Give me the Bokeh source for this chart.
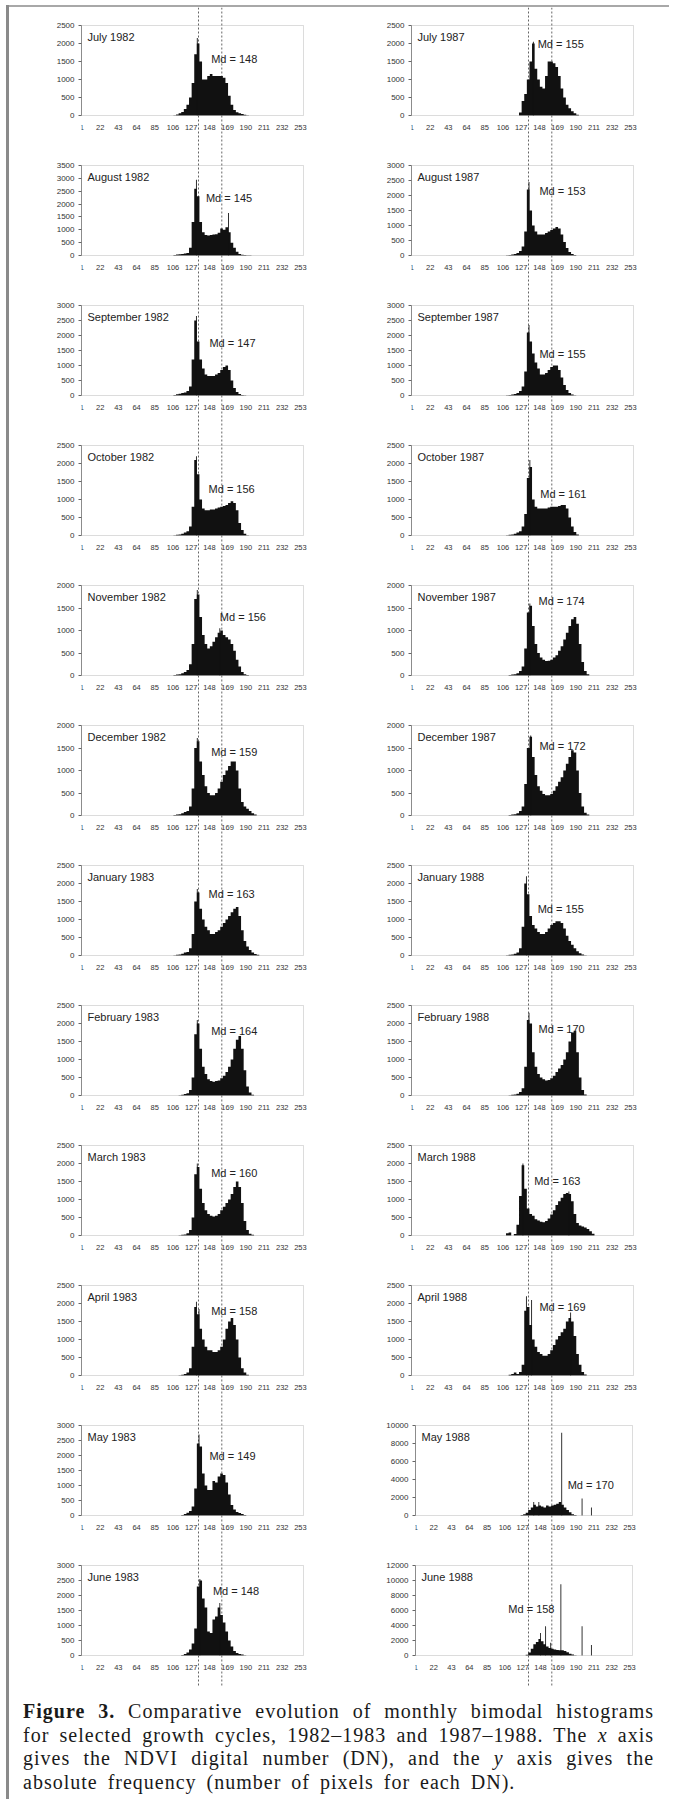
from bokeh.plotting import figure
from bokeh.models import Label, Span, Div, FixedTicker, Range1d, LinearAxis, BoxAnnotation
from bokeh.layouts import column, row
from bokeh.embed import file_html
from bokeh.resources import INLINE

# ---------------- data ----------------
DN = [102, 105, 108, 111, 114, 117, 120, 123, 126, 129, 132, 135, 138, 141, 144,
      147, 150, 153, 156, 159, 162, 165, 168, 171, 174, 177, 180, 183, 186, 189,
      192, 195, 198, 201, 204, 207, 210, 213, 216]
X_TICKS = [1, 22, 43, 64, 85, 106, 127, 148, 169, 190, 211, 232, 253]

TITLES_L = ["July 1982", "August 1982", "September 1982", "October 1982",
            "November 1982", "December 1982", "January 1983", "February 1983",
            "March 1983", "April 1983", "May 1983", "June 1983"]
TITLES_R = ["July 1987", "August 1987", "September 1987", "October 1987",
            "November 1987", "December 1987", "January 1988", "February 1988",
            "March 1988", "April 1988", "May 1988", "June 1988"]
MD_L = [148, 145, 147, 156, 156, 159, 163, 164, 160, 158, 149, 148]
MD_R = [155, 153, 155, 161, 174, 172, 155, 170, 163, 169, 170, 158]
YMAX_L = [2500, 3500, 3000, 2500, 2000, 2000, 2500, 2500, 2500, 2500, 3000, 3000]
YSTEP_L = [500] * 12
YMAX_R = [2500, 3000, 3000, 2500, 2000, 2000, 2500, 2500, 2500, 2500, 10000, 12000]
YSTEP_R = [500] * 10 + [2000, 2000]

jul82 = [0, 0, 10, 30, 60, 100, 180, 300, 500, 900, 1700, 2000, 1500, 1000, 1000, 1100, 1150, 1100, 1100, 1100,
         1100, 1050, 900, 550, 300, 150, 90, 60, 40, 20, 10, 0, 0, 0, 0, 0, 0, 0, 0]
aug82 = [0, 0, 20, 40, 50, 60, 80, 100, 300, 1300, 2600, 2300, 1300, 900, 800, 780, 800, 820, 830, 880,
         1050, 1000, 1100, 900, 500, 300, 150, 60, 30, 20, 10, 5, 0, 0, 0, 0, 0, 0, 0]
sep82 = [0, 0, 20, 40, 60, 80, 100, 150, 300, 1200, 2500, 1800, 1200, 900, 700, 650, 650, 650, 700, 750,
         850, 950, 1000, 850, 500, 250, 120, 50, 20, 10, 0, 0, 0, 0, 0, 0, 0, 0, 0]
oct82 = [0, 0, 10, 20, 30, 50, 80, 120, 250, 800, 2100, 1700, 1000, 750, 700, 700, 720, 720, 750, 780,
         800, 820, 850, 900, 950, 900, 700, 350, 150, 50, 10, 0, 0, 0, 0, 0, 0, 0, 0]
nov82 = [0, 0, 10, 20, 30, 50, 80, 120, 250, 700, 1700, 1800, 1300, 900, 700, 600, 650, 750, 850, 950,
         1000, 900, 850, 800, 700, 550, 350, 200, 80, 30, 10, 0, 0, 0, 0, 0, 0, 0, 0]
dec82 = [0, 0, 10, 20, 30, 50, 80, 100, 200, 600, 1500, 1650, 1200, 900, 650, 500, 450, 450, 500, 600,
         750, 900, 1000, 1100, 1200, 1200, 1000, 600, 300, 200, 150, 100, 50, 20, 0, 0, 0, 0, 0]
jan83 = [0, 0, 10, 20, 30, 50, 80, 100, 200, 600, 1500, 1750, 1300, 1000, 800, 700, 600, 600, 650, 700,
         800, 900, 1000, 1100, 1200, 1300, 1350, 1100, 700, 400, 250, 150, 80, 40, 20, 0, 0, 0, 0]
feb83 = [0, 0, 0, 0, 10, 20, 40, 60, 150, 500, 1700, 2000, 1300, 800, 600, 450, 400, 380, 400, 420,
         480, 550, 650, 800, 1000, 1300, 1550, 1650, 1300, 700, 250, 80, 20, 0, 0, 0, 0, 0, 0]
mar83 = [0, 0, 0, 0, 10, 20, 30, 60, 150, 500, 1700, 1900, 1300, 900, 700, 600, 550, 530, 550, 600,
         700, 800, 900, 1000, 1150, 1350, 1500, 1350, 900, 400, 150, 50, 20, 0, 0, 0, 0, 0, 0]
apr83 = [0, 0, 0, 0, 10, 20, 40, 80, 200, 800, 1900, 1700, 1300, 1000, 800, 700, 700, 650, 650, 700,
         800, 1000, 1300, 1500, 1600, 1400, 1000, 500, 200, 80, 20, 0, 0, 0, 0, 0, 0, 0, 0]
may83 = [0, 0, 0, 0, 0, 20, 50, 90, 150, 300, 900, 2400, 2300, 1400, 1000, 850, 850, 1150, 1100, 1300,
         1400, 1350, 1100, 700, 350, 200, 120, 80, 50, 20, 0, 0, 0, 0, 0, 0, 0, 0, 0]
jun83 = [0, 0, 0, 0, 0, 20, 50, 100, 200, 400, 900, 2300, 2500, 1900, 1600, 800, 750, 1200, 1300, 1600,
         1350, 1100, 800, 500, 300, 150, 80, 50, 30, 10, 0, 0, 0, 0, 0, 0, 0, 0, 0]

jul87 = [0, 0, 0, 0, 0, 0, 0, 0, 80, 400, 600, 1000, 1500, 2000, 1300, 1000, 800, 750, 1100, 1500,
         1500, 1450, 1350, 1100, 750, 500, 300, 200, 120, 60, 20, 0, 0, 0, 0, 0, 0, 0, 0]
aug87 = [0, 0, 0, 10, 20, 30, 50, 80, 150, 300, 800, 2200, 1500, 1000, 800, 700, 700, 700, 750, 800,
         850, 900, 950, 900, 700, 450, 250, 120, 50, 20, 0, 0, 0, 0, 0, 0, 0, 0, 0]
sep87 = [0, 0, 0, 10, 20, 30, 50, 80, 150, 300, 800, 2100, 1800, 1400, 1100, 900, 700, 700, 750, 850,
         950, 1000, 1000, 850, 600, 350, 180, 80, 30, 10, 0, 0, 0, 0, 0, 0, 0, 0, 0]
oct87 = [0, 0, 0, 10, 20, 30, 50, 80, 120, 250, 600, 1600, 1900, 1000, 800, 750, 750, 750, 750, 780,
         800, 800, 800, 820, 850, 850, 750, 500, 250, 100, 30, 0, 0, 0, 0, 0, 0, 0, 0]
nov87 = [0, 0, 0, 0, 10, 20, 30, 50, 100, 200, 600, 1400, 1550, 1100, 700, 500, 400, 350, 320, 330,
         350, 400, 450, 550, 650, 800, 950, 1100, 1250, 1300, 1150, 700, 300, 100, 30, 0, 0, 0, 0]
dec87 = [0, 0, 0, 0, 10, 20, 30, 50, 100, 200, 700, 1500, 1750, 1300, 900, 650, 550, 480, 450, 450,
         480, 550, 650, 750, 850, 1000, 1150, 1300, 1450, 1400, 1000, 500, 200, 60, 20, 0, 0, 0, 0]
jan88 = [0, 0, 0, 10, 20, 30, 50, 80, 200, 800, 2000, 1700, 1100, 850, 750, 650, 600, 600, 650, 750,
         850, 900, 950, 950, 900, 750, 550, 400, 300, 200, 120, 60, 30, 10, 0, 0, 0, 0, 0]
feb88 = [0, 0, 0, 0, 10, 20, 30, 50, 100, 200, 800, 2100, 2000, 1200, 800, 600, 500, 450, 420, 430,
         480, 550, 650, 750, 850, 1000, 1200, 1500, 1750, 1800, 1200, 500, 150, 30, 0, 0, 0, 0, 0]
mar88 = [0, 0, 0, 60, 80, 0, 40, 300, 1100, 1950, 1300, 750, 600, 550, 450, 420, 380, 370, 400, 470,
         580, 700, 850, 950, 1050, 1150, 1180, 1150, 950, 600, 350, 280, 250, 220, 180, 120, 50, 0, 0]
apr88 = [0, 0, 0, 0, 20, 40, 80, 40, 100, 300, 1800, 1900, 1400, 1000, 800, 650, 600, 550, 550, 600,
         700, 850, 1000, 1100, 1200, 1300, 1500, 1600, 1500, 1100, 600, 300, 100, 30, 0, 0, 0, 0, 0]
may88 = [0, 0, 0, 0, 0, 0, 0, 0, 50, 150, 300, 600, 900, 1200, 1000, 1100, 1000, 900, 1100, 1000,
         1100, 1200, 1300, 1500, 1200, 900, 600, 350, 150, 50, 0, 0, 0, 0, 0, 0, 0, 0, 0]
jun88 = [0, 0, 0, 0, 0, 0, 0, 0, 0, 0, 100, 400, 900, 1500, 1800, 2200, 1900, 1500, 1200, 1000,
         900, 800, 750, 700, 700, 600, 450, 250, 120, 40, 0, 0, 0, 0, 0, 0, 0, 0, 0]

# single-DN spikes (DN, count)
SPK_X_L = [[134], [133, 170], [133], [133], [134, 160], [134], [134], [134], [134], [133, 136], [136], [137, 160]]
SPK_Y_L = [[2150], [2950, 1650], [2650], [2200], [1900, 1050], [1720], [1850], [2100], [2000], [2050, 1850], [2700], [2550, 1750]]
SPK_X_R = [[141], [136], [136], [137], [137], [138], [133], [136], [129, 182], [133, 139, 184],
           [140, 146, 173, 197, 208], [148, 154, 160, 172, 197, 208]]
SPK_Y_R = [[2050], [2450], [2350], [2100], [1600], [1780], [2200], [2300], [2000, 1220], [2200, 2100, 1750],
           [1500, 1500, 9200, 1900, 900], [3000, 3900, 1700, 9500, 3900, 1400]]

VALS_L = [jul82, aug82, sep82, oct82, nov82, dec82, jan83, feb83, mar83, apr83, may83, jun83]
VALS_R = [jul87, aug87, sep87, oct87, nov87, dec87, jan88, feb88, mar88, apr88, may88, jun88]

# label placement (DN of text start, count at text middle)
MDPOS_X_L = [150, 144, 148, 147, 160, 150, 147, 150, 150, 150, 148, 152]
MDPOS_Y_L = [1580, 2230, 1760, 1300, 1300, 1420, 1700, 1800, 1750, 1800, 1990, 2160]
MDPOS_X_R = [146, 148, 148, 149, 147, 148, 146, 147, 142, 148, 180, 110]
MDPOS_Y_R = [1990, 2150, 1400, 1150, 1650, 1550, 1300, 1850, 1520, 1900, 3390, 6150]

# page x positions of the two dashed guide lines in each column
GUIDE_PX_L = [198, 221.3]
GUIDE_PX_R = [528, 551.3]

FONT = "Liberation Sans"
INK = "#111111"
FRAME = "#8c8c8c"
ORIGIN_X, ORIGIN_Y = 6, 5   # where the page frame starts
RULE_W, RULE_H = 3, 2       # widths of the left and top frame rules
CELL_H = 140
BOX_TOP = 18
BOX_H = 90                  # pixel height of each histogram box
PAD_R = 10                  # spare frame width right of the box, so the last tick label is not cut
LEFT_W, RIGHT_W = 328, 332
CAPTION_H = 112


def make_panel(col, r, title, vals, spx, spy, ymax, ystep, md, mdx, mdy):
    h = CELL_H
    top = BOX_TOP
    bottom = h - top - BOX_H
    wide = ymax >= 10000
    if col == 0:
        W, bl, bw = LEFT_W, 72, 222
        page_left = ORIGIN_X + RULE_W
        guides = GUIDE_PX_L
    else:
        W = RIGHT_W
        bl, bw = (78, 217) if wide else (74, 222)
        page_left = ORIGIN_X + RULE_W + LEFT_W
        guides = GUIDE_PX_R
    fw = bw + PAD_R
    br = W - bl - fw
    scale = bw / 256.0
    per_px = ymax / float(BOX_H)
    p = figure(width=W, height=h, title=None, output_backend="svg", toolbar_location=None,
               x_range=Range1d(0.5, 256.5 + PAD_R / scale),
               y_range=Range1d(-bottom * per_px, ymax + top * per_px),
               x_axis_location=None,
               min_border_left=bl, min_border_right=br, min_border_top=0, min_border_bottom=0)
    p.background_fill_color = "white"
    p.border_fill_color = "white"
    p.outline_line_color = None
    p.grid.visible = False

    # dashed guide lines, running through the whole cell (behind the bars)
    frame_left = page_left + bl
    for gx in guides:
        dn = 0.5 + (gx - frame_left) / scale
        p.add_layout(Span(location=dn, dimension="height", line_color="#666666",
                          line_width=1, line_dash="2 2", level="underlay"))

    p.varea_step(x=DN, y1=[0] * len(DN), y2=vals, step_mode="center", fill_color=INK)
    p.vbar(x=spx, top=spy, width=1.0, fill_color=INK, line_color=None)

    p.add_layout(BoxAnnotation(left=0.5, right=256.5, bottom=0, top=ymax, fill_alpha=0,
                               line_color=FRAME, line_width=1, level="overlay"))

    xa = LinearAxis(fixed_location=0, ticker=FixedTicker(ticks=X_TICKS), bounds=(0.5, 256.5))
    xa.axis_line_color = None
    xa.major_tick_line_color = None
    xa.minor_tick_line_color = None
    xa.major_tick_out = 0
    xa.major_tick_in = 0
    xa.major_label_standoff = 9
    xa.major_label_text_font = FONT
    xa.major_label_text_font_size = "7.5px"
    xa.major_label_text_color = "#333333"
    p.add_layout(xa, "below")

    ya = p.yaxis[0]
    ya.ticker = FixedTicker(ticks=list(range(0, ymax + 1, ystep)))
    ya.bounds = (0, ymax)
    ya.axis_line_color = FRAME
    ya.major_tick_line_color = "#666666"
    ya.minor_tick_line_color = None
    ya.major_tick_out = 3
    ya.major_tick_in = 0
    ya.major_label_standoff = 4
    ya.major_label_text_font = FONT
    ya.major_label_text_font_size = "8px"
    ya.major_label_text_color = "#333333"

    p.add_layout(Label(x=0.5, y=ymax, x_offset=6, y_offset=-5, text=title,
                       text_font=FONT, text_font_size="11px", text_color="#222222",
                       text_baseline="top", text_align="left"))
    p.add_layout(Label(x=mdx, y=mdy, text="Md = %d" % md,
                       text_font=FONT, text_font_size="11px", text_color="#222222",
                       text_baseline="middle", text_align="left"))
    return p


rows = []
for r in range(12):
    pl = make_panel(0, r, TITLES_L[r], VALS_L[r], SPK_X_L[r], SPK_Y_L[r], YMAX_L[r], YSTEP_L[r],
                    MD_L[r], MDPOS_X_L[r], MDPOS_Y_L[r])
    pr = make_panel(1, r, TITLES_R[r], VALS_R[r], SPK_X_R[r], SPK_Y_R[r], YMAX_R[r], YSTEP_R[r],
                    MD_R[r], MDPOS_X_R[r], MDPOS_Y_R[r])
    rows.append(row(pl, pr, spacing=0))

line_style = ("white-space:nowrap;text-align:justify;text-align-last:justify;"
              "height:23.7px;line-height:23.7px;")
caption_html = (
    '<div style="font-family:\'Liberation Serif\',serif;font-size:20px;color:#1a1a1a;'
    'letter-spacing:1px;word-spacing:4px;padding:13px 0 0 14px;width:645px;">'
    '<div style="%s"><b>Figure 3.</b> Comparative evolution of monthly bimodal histograms</div>'
    '<div style="%s">for selected growth cycles, 1982&#8211;1983 and 1987&#8211;1988. The <i>x</i> axis</div>'
    '<div style="%s">gives the NDVI digital number (DN), and the <i>y</i> axis gives the</div>'
    '<div style="height:23.7px;line-height:23.7px;white-space:nowrap;">absolute frequency (number of pixels for each DN).</div>'
    '</div>' % (line_style, line_style, line_style)
)
content_w = LEFT_W + RIGHT_W
caption = Div(text=caption_html, width=content_w, height=CAPTION_H, margin=0)
top_rule = Div(text="", width=content_w, height=RULE_H, margin=0, styles={"background-color": "#a8a8a8"})
left_rule = Div(text="", width=RULE_W, height=RULE_H + 12 * CELL_H + CAPTION_H, margin=0,
                styles={"background-color": "#8a8a8a"})

page = row(left_rule, column(top_rule, *rows, caption, spacing=0), spacing=0,
           margin=(ORIGIN_Y, 0, 0, ORIGIN_X))

open("out.html", "w").write(file_html(page, INLINE, title="Figure 3"))
